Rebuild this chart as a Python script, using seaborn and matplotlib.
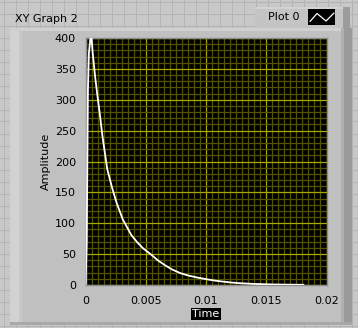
import matplotlib
matplotlib.use("Agg")
import matplotlib.pyplot as plt
import seaborn as sns
import pandas as pd
from matplotlib.patches import Rectangle
from matplotlib.lines import Line2D

# ---- data ----
time = [0.0, 0.0001, 0.0002, 0.00028, 0.0004, 0.0005, 0.0006, 0.0008, 0.0010,
        0.0012, 0.0014, 0.0016, 0.0018, 0.0022, 0.0026, 0.0031, 0.0038, 0.0043,
        0.0048, 0.0054, 0.0060, 0.0066, 0.0072, 0.0079, 0.0086, 0.0093, 0.0100,
        0.0107, 0.0114, 0.0121, 0.0128, 0.0139, 0.0155, 0.0169, 0.0181]
amplitude = [0, 68, 316, 375, 398, 400, 375, 337, 305,
             275, 242, 215, 188, 158, 132, 106, 81, 69,
             59, 50, 40, 32, 25, 19, 15, 12, 9.5,
             7.2, 5.5, 4.0, 2.9, 1.8, 0.9, 0.5, 0.3]
x_ticks = [0, 0.005, 0.01, 0.015, 0.02]
x_tick_labels = ["0", "0.005", "0.01", "0.015", "0.02"]
y_ticks = [0, 50, 100, 150, 200, 250, 300, 350, 400]
title = "XY Graph 2"
legend_label = "Plot 0"

df = pd.DataFrame({"Time": time, "Amplitude": amplitude})

sns.set_theme(style="white")
plt.rcParams['font.family'] = ['DejaVu Sans']

W, H = 358, 328
fig = plt.figure(figsize=(W / 100, H / 100), dpi=100)
fig.patch.set_facecolor("#c8c8c8")

def fx(px):
    return px / W

def fy(py):
    return 1 - py / H

def rect(x0, y0, x1, y1, color, z=0):
    fig.patches.append(Rectangle((fx(x0), fy(y1)), fx(x1) - fx(x0), fy(y0) - fy(y1),
                                 transform=fig.transFigure, facecolor=color,
                                 edgecolor="none", zorder=z))

def hline(y, x0, x1, color, z=0.5, lw=1):
    fig.lines.append(Line2D([fx(x0), fx(x1)], [fy(y), fy(y)], transform=fig.transFigure,
                            color=color, lw=lw, zorder=z))

def vline(x, y0, y1, color, z=0.5, lw=1):
    fig.lines.append(Line2D([fx(x), fx(x)], [fy(y0), fy(y1)], transform=fig.transFigure,
                            color=color, lw=lw, zorder=z))

# background panel grid
for gx in range(3, W, 12):
    vline(gx + 0.5, 0, H, "#b4b4b4", z=0.1, lw=0.7)
for gy in range(1, H, 12):
    hline(gy + 0.5, 0, W, "#b4b4b4", z=0.1, lw=0.7)

# graph frame
rect(10, 28, 352, 325, "#c0c0c0", z=1)
rect(10, 28, 19, 325, "#d2d2d2", z=1.1)
rect(19, 28, 22, 325, "#c8c8c8", z=1.1)
rect(10, 28, 352, 31, "#d0d0d0", z=1.1)
rect(344, 28, 352, 325, "#9a9a9a", z=1.1)
rect(341, 28, 344, 325, "#b0b0b0", z=1.1)
rect(10, 322, 352, 325, "#a8a8a8", z=1.1)

# legend box
rect(255, 7, 350, 28, "#c4c4c4", z=2)
rect(255, 7, 350, 9, "#d2d2d2", z=2.1)
rect(343, 7, 350, 28, "#9c9c9c", z=2.1)
rect(308, 9, 335, 25, "#000000", z=2.2)
fig.lines.append(Line2D([fx(310), fx(317), fx(326), fx(334)],
                        [fy(21.5), fy(13.5), fy(21), fy(13)],
                        transform=fig.transFigure, color="white", lw=0.9, zorder=2.3))
fig.text(fx(268), fy(17.5), legend_label, fontsize=8, va="center", ha="left",
         color="black", zorder=3)

# title label
fig.text(fx(15), fy(19), title, fontsize=8, va="center", ha="left", color="black", zorder=3)

# plot area
ax = fig.add_axes([fx(85.5), fy(285), fx(326.5) - fx(85.5), fy(38) - fy(285)])
ax.set_zorder(5)
ax.set_facecolor("black")
sns.lineplot(data=df, x="Time", y="Amplitude", ax=ax, color="white", lw=1.3,
             zorder=10, estimator=None, sort=False)
ax.set_xlim(0, 0.02)
ax.set_ylim(0, 400)
ax.set_xticks(x_ticks)
ax.set_xticklabels(x_tick_labels)
ax.set_yticks(y_ticks)
ax.set_xticks([i * 0.0005 for i in range(41)], minor=True)
ax.set_yticks([i * 10 for i in range(41)], minor=True)
ax.grid(True, which="minor", color="#545400", lw=0.9, zorder=1)
ax.grid(True, which="major", color="#a8a800", lw=0.9, zorder=2)
ax.set_axisbelow(True)
ax.tick_params(which="minor", length=0)
ax.tick_params(which="major", direction="out", length=5, width=1, color="black",
               labelsize=8, labelcolor="black", pad=2)
ax.tick_params(axis="x", which="major", pad=3)
for s in ax.spines.values():
    s.set_color("#8a8a8a")
    s.set_linewidth(1)
ax.set_xlabel("Time", fontsize=8, color="white", labelpad=2,
              bbox=dict(facecolor="black", edgecolor="none", pad=1))
ax.set_ylabel("Amplitude", fontsize=8, color="black", labelpad=3)

fig.savefig("out.png", dpi=100, facecolor=fig.get_facecolor())
